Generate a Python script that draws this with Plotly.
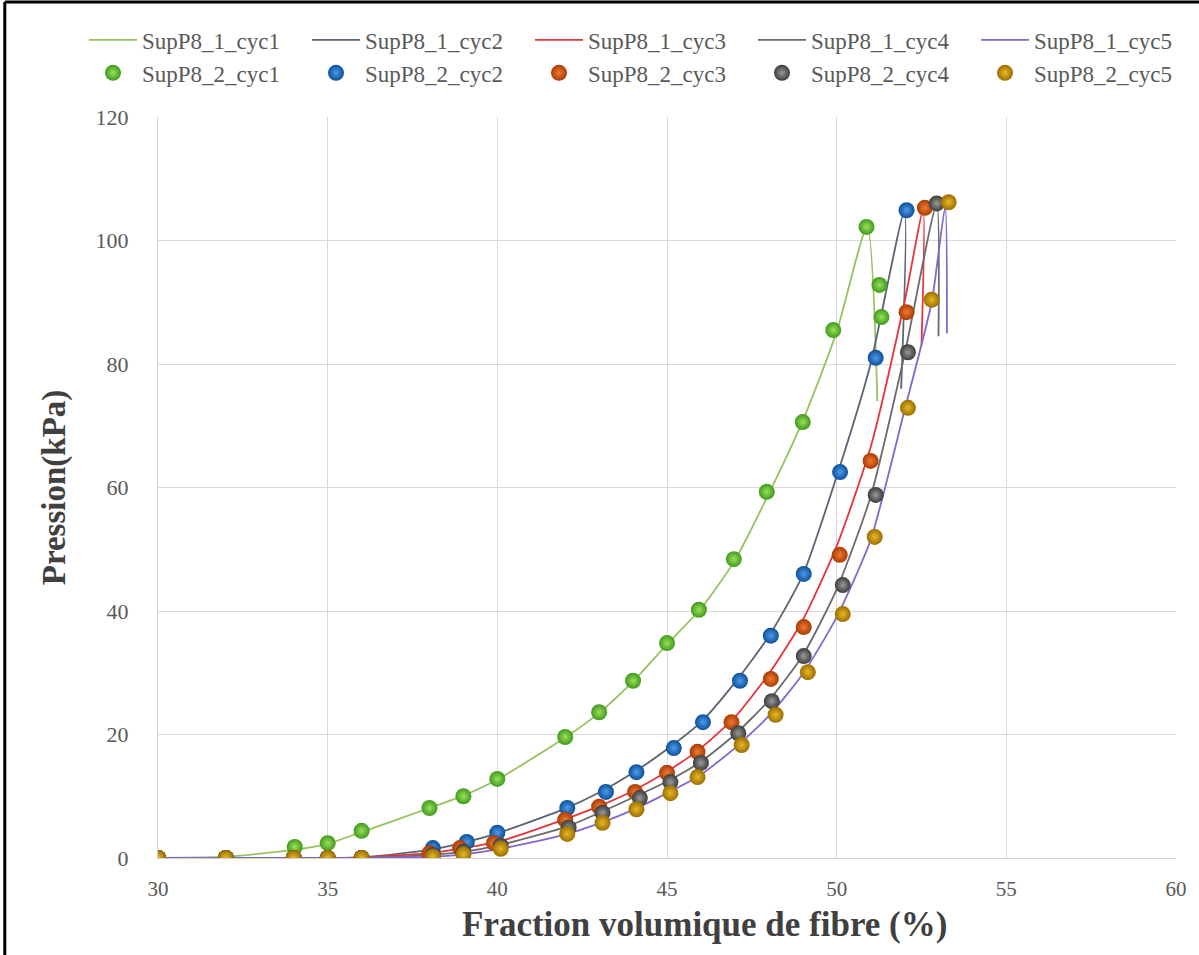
import plotly.graph_objects as go

# --- Données ---
# Courbes SupP8_1 (lignes)
x_l1 = [30, 32, 34, 35, 36, 38, 39, 40, 42, 43, 44, 45, 46, 47, 48, 49, 50, 50.9, 51.2]
y_l1 = [0, 0.2, 1.3, 2.3, 4.2, 8.1, 10.1, 12.7, 19.5, 23.5, 28.6, 34.6, 40.4, 48.2, 59.0, 70.8, 85.2, 102.3, 74.0]

x_l2 = [30, 32, 34, 35, 36, 38, 39, 40, 42, 43, 44, 45, 46, 47, 48, 49, 50, 51, 52.0, 51.9]
y_l2 = [0, 0, 0, 0, 0.1, 1.3, 2.5, 4.0, 8.0, 10.6, 13.8, 17.6, 22.0, 28.4, 35.9, 45.8, 61.8, 80.0, 104.8, 76.0]

x_l3 = [30, 32, 34, 35, 36, 38, 39, 40, 42, 43, 44, 45, 46, 47, 48, 49, 50, 51, 52, 52.55, 52.5]
y_l3 = [0, 0, 0, 0, 0.1, 0.8, 1.6, 2.6, 6.3, 8.4, 10.9, 14.0, 17.8, 22.8, 29.8, 38.5, 50.5, 66.5, 90.0, 105.0, 83.0]

x_l4 = [30, 32, 34, 35, 36, 38, 39, 40, 42, 43, 44, 45, 46, 47, 48, 49, 50, 51, 52, 52.95, 53.0]
y_l4 = [0, 0, 0, 0, 0, 0.5, 1.0, 2.0, 5.0, 7.3, 9.8, 12.4, 15.6, 20.0, 25.5, 32.8, 43.5, 58.5, 81.5, 106.0, 84.5]

x_l5 = [30, 32, 34, 35, 36, 38, 39, 40, 42, 43, 44, 45, 46, 47, 48, 49, 50, 51, 52, 52.8, 53.2, 53.25]
y_l5 = [0, 0, 0, 0, 0, 0.2, 0.6, 1.4, 3.8, 5.6, 7.8, 10.5, 13.5, 17.8, 23.0, 29.8, 39.0, 51.5, 72.5, 90.0, 105.5, 85.0]

# Points SupP8_2 (marqueurs)
x_m1 = [30, 32, 34.03, 35, 36, 38, 39, 40, 42, 43, 44, 45, 45.94, 46.97, 47.94, 49, 49.9, 50.88, 51.26, 51.32]
y_m1 = [0, 0, 1.8, 2.4, 4.4, 8.1, 10.0, 12.8, 19.6, 23.6, 28.7, 34.8, 40.2, 48.4, 59.3, 70.6, 85.5, 102.2, 92.8, 87.6]

x_m2 = [30, 32, 34, 35, 36, 38.1, 39.1, 40.0, 42.06, 43.2, 44.1, 45.2, 46.06, 47.15, 48.06, 49.03, 50.1, 51.15, 52.06]
y_m2 = [0, 0, 0, 0, 0, 1.6, 2.6, 4.1, 8.1, 10.7, 13.9, 17.8, 22.0, 28.7, 36.0, 46.0, 62.5, 81.0, 104.9]

x_m3 = [30, 32, 34, 35, 36, 38.0, 38.9, 39.9, 42.0, 43.0, 44.06, 45.0, 45.9, 46.9, 48.06, 49.03, 50.09, 51.0, 52.06, 52.6]
y_m3 = [0, 0, 0, 0, 0, 0.8, 1.6, 2.4, 6.2, 8.3, 10.7, 13.8, 17.2, 22.0, 29.0, 37.4, 49.1, 64.3, 88.4, 105.3]

x_m4 = [30, 32, 34, 35, 36, 38.1, 39.0, 40.1, 42.1, 43.1, 44.2, 45.1, 46.0, 47.1, 48.09, 49.03, 50.18, 51.15, 52.1, 52.95]
y_m4 = [0, 0, 0, 0, 0, 0.5, 1.0, 2.0, 4.9, 7.3, 9.7, 12.3, 15.4, 20.2, 25.4, 32.7, 44.2, 58.8, 81.9, 106.0]

x_m5 = [30, 32, 34, 35, 36, 38.1, 39.0, 40.1, 42.06, 43.1, 44.1, 45.1, 45.9, 47.2, 48.2, 49.15, 50.18, 51.12, 52.1, 52.8, 53.3]
y_m5 = [0, 0, 0, 0, 0, 0.2, 0.6, 1.5, 3.9, 5.7, 7.9, 10.5, 13.1, 18.3, 23.2, 30.1, 39.5, 52.0, 72.9, 90.4, 106.2]

line_names = ["SupP8_1_cyc1", "SupP8_1_cyc2", "SupP8_1_cyc3", "SupP8_1_cyc4", "SupP8_1_cyc5"]
marker_names = ["SupP8_2_cyc1", "SupP8_2_cyc2", "SupP8_2_cyc3", "SupP8_2_cyc4", "SupP8_2_cyc5"]

line_colors = ["#97c25e", "#5b6474", "#e8333b", "#6b6b6b", "#8466d0"]
# (couleur de bord, couleur du reflet central)
marker_colors = [
    ("#3f9a1c", "#9be05c"),
    ("#0d4f9c", "#4f9be6"),
    ("#a83c06", "#f07a30"),
    ("#3c3c3c", "#9a9a9a"),
    ("#9a6f00", "#e8b82a"),
]

lines = [(x_l1, y_l1), (x_l2, y_l2), (x_l3, y_l3), (x_l4, y_l4), (x_l5, y_l5)]
markers = [(x_m1, y_m1), (x_m2, y_m2), (x_m3, y_m3), (x_m4, y_m4), (x_m5, y_m5)]

fig = go.Figure()

for (xs, ys), name, color in zip(lines, line_names, line_colors):
    fig.add_trace(
        go.Scatter(
            x=xs,
            y=ys,
            mode="lines",
            name=name,
            line=dict(color=color, width=1.8, shape="spline", smoothing=0.6),
        )
    )

for (xs, ys), name, (edge, center) in zip(markers, marker_names, marker_colors):
    fig.add_trace(
        go.Scatter(
            x=xs,
            y=ys,
            mode="markers",
            name=name,
            marker=dict(
                size=16,
                color=edge,
                gradient=dict(type="radial", color=center),
                line=dict(width=0),
            ),
        )
    )

serif = "Liberation Serif"

# cadre noir (bords gauche et haut de l'image d'origine)
fig.add_shape(type="line", xref="paper", yref="paper",
              x0=-0.1505, x1=-0.1505, y0=-0.2, y1=1.1552,
              line=dict(color="black", width=3))
fig.add_shape(type="line", xref="paper", yref="paper",
              x0=-0.1505, x1=1.05, y0=1.1552, y1=1.1552,
              line=dict(color="black", width=3))

# titre de l'axe X (légèrement décalé à droite comme sur l'original)
fig.add_annotation(
    text="<b>Fraction volumique de fibre (%)</b>",
    xref="paper", yref="paper",
    x=0.5365, y=-0.09,
    xanchor="center", yanchor="middle",
    showarrow=False,
    font=dict(family=serif, size=35, color="#404040"),
)

fig.update_layout(
    width=1199,
    height=955,
    margin=dict(l=158, r=21, t=117, b=97),
    paper_bgcolor="white",
    plot_bgcolor="white",
    font=dict(family=serif, color="#595959"),
    showlegend=True,
    legend=dict(
        orientation="h",
        x=-0.062,
        y=1.133,
        xanchor="left",
        yanchor="top",
        entrywidth=160,
        entrywidthmode="pixels",
        bgcolor="rgba(0,0,0,0)",
        font=dict(family=serif, size=23, color="#595959"),
        itemwidth=48,
    ),
)

fig.update_xaxes(
    range=[30, 60],
    tickvals=[30, 35, 40, 45, 50, 55, 60],
    showgrid=True,
    gridcolor="#d9d9d9",
    gridwidth=1,
    zeroline=False,
    showline=True,
    linecolor="#d0d0d0",
    tickfont=dict(family=serif, size=21, color="#595959"),
    ticklabelstandoff=12,
)

fig.update_yaxes(
    range=[0, 120],
    tickvals=[0, 20, 40, 60, 80, 100, 120],
    showgrid=True,
    gridcolor="#d9d9d9",
    gridwidth=1,
    zeroline=False,
    showline=True,
    linecolor="#d0d0d0",
    tickfont=dict(family=serif, size=22, color="#595959"),
    ticklabelstandoff=24,
    title=dict(
        text="<b>Pression(kPa)</b>",
        font=dict(family=serif, size=33, color="#404040"),
        standoff=20,
    ),
)

# pas de marge autour du graphique dans la page
fig.write_html(
    "out.html",
    config={"displayModeBar": False},
    post_script="document.body.style.margin='0';",
)
